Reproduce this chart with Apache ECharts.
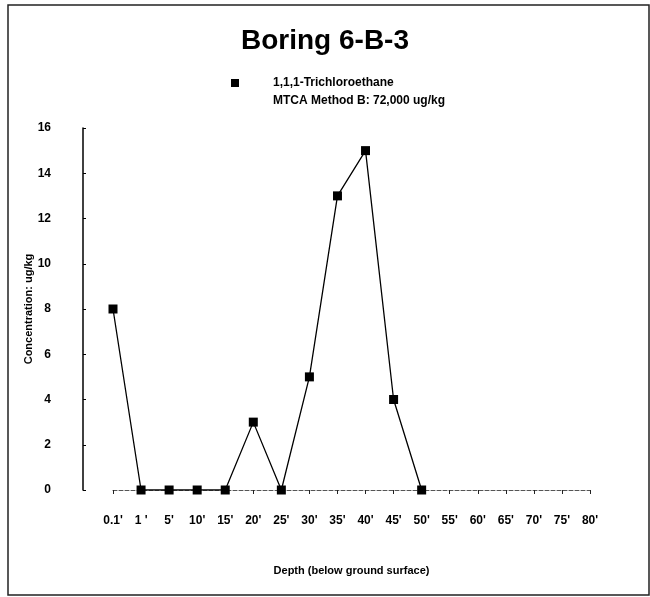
<!DOCTYPE html>
<html>
<head>
<meta charset="utf-8">
<script src="https://cdn.jsdelivr.net/npm/echarts@6/dist/echarts.min.js"></script>
<style>html,body{margin:0;padding:0;background:#fff;}#c{width:650px;height:597px;}</style>
</head>
<body>
<div id="c"></div>
<script>
var depthLabels = ["0.1'", "1 '", "5'", "10'", "15'", "20'", "25'", "30'", "35'", "40'", "45'", "50'", "55'", "60'", "65'", "70'", "75'", "80'"];
var trichloroethane = [8, 0, 0, 0, 0, 3, 0, 5, 13, 15, 4, 0];
var yTicks = [0, 2, 4, 6, 8, 10, 12, 14, 16];
var seriesName = '1,1,1-Trichloroethane';
var mtcaName = 'MTCA Method B: 72,000 ug/kg';

var FN = "'Liberation Sans', Arial, sans-serif";
var chart = echarts.init(document.getElementById('c'));
chart.setOption({
  animation: false,
  backgroundColor: '#fff',
  title: {
    text: 'Boring 6-B-3',
    left: 'center',
    top: 22,
    textStyle: {fontFamily: FN, fontWeight: 'bold', fontSize: 28, color: '#000'}
  },
  legend: {
    left: 226,
    top: 72,
    orient: 'vertical',
    itemGap: 6,
    itemWidth: 8,
    itemHeight: 8,
    textStyle: {fontFamily: FN, fontWeight: 'bold', fontSize: 12, color: '#000', padding: [0, 0, 0, 29]},
    data: [{name: seriesName, icon: 'rect'}, {name: mtcaName, icon: 'none'}]
  },
  graphic: [{
    type: 'rect', shape: {x: 8, y: 5, width: 641, height: 590},
    style: {fill: 'none', stroke: '#222', lineWidth: 1.5}, silent: true
  }],
  grid: {left: 113, right: 60, top: 128, bottom: 107},
  xAxis: {
    type: 'category',
    data: depthLabels,
    boundaryGap: false,
    name: 'Depth (below ground surface)',
    nameLocation: 'middle',
    nameGap: 75,
    nameMoveOverlap: false,
    nameTextStyle: {fontFamily: FN, fontWeight: 'bold', fontSize: 11, color: '#000'},
    axisLine: {lineStyle: {color: '#555', type: 'dashed', width: 1}},
    axisTick: {show: true, length: 4, inside: false, lineStyle: {color: '#222'}},
    axisLabel: {interval: 0, margin: 25, fontFamily: FN, fontWeight: 'bold', fontSize: 12, color: '#000'},
    splitLine: {show: false}
  },
  yAxis: {
    type: 'value',
    min: yTicks[0],
    max: yTicks[yTicks.length - 1],
    interval: 2,
    offset: 30,
    name: 'Concentration: ug/kg',
    nameLocation: 'middle',
    nameGap: 49,
    nameMoveOverlap: false,
    nameRotate: 90,
    nameTextStyle: {fontFamily: FN, fontWeight: 'bold', fontSize: 11, color: '#000'},
    axisLine: {show: true, lineStyle: {color: '#000', width: 1.5}},
    axisTick: {show: true, inside: true, length: 3, lineStyle: {color: '#000'}},
    axisLabel: {margin: 32, fontFamily: FN, fontWeight: 'bold', fontSize: 12, color: '#000'},
    splitLine: {show: false}
  },
  series: [{
    name: seriesName,
    type: 'line',
    data: trichloroethane,
    symbol: 'rect',
    symbolSize: 9,
    showAllSymbol: true,
    itemStyle: {color: '#000'},
    lineStyle: {color: '#000', width: 1.3}
  }, {
    name: mtcaName,
    type: 'line',
    data: [],
    itemStyle: {color: '#000'},
    lineStyle: {color: '#000', width: 1}
  }]
});
</script>
</body>
</html>
